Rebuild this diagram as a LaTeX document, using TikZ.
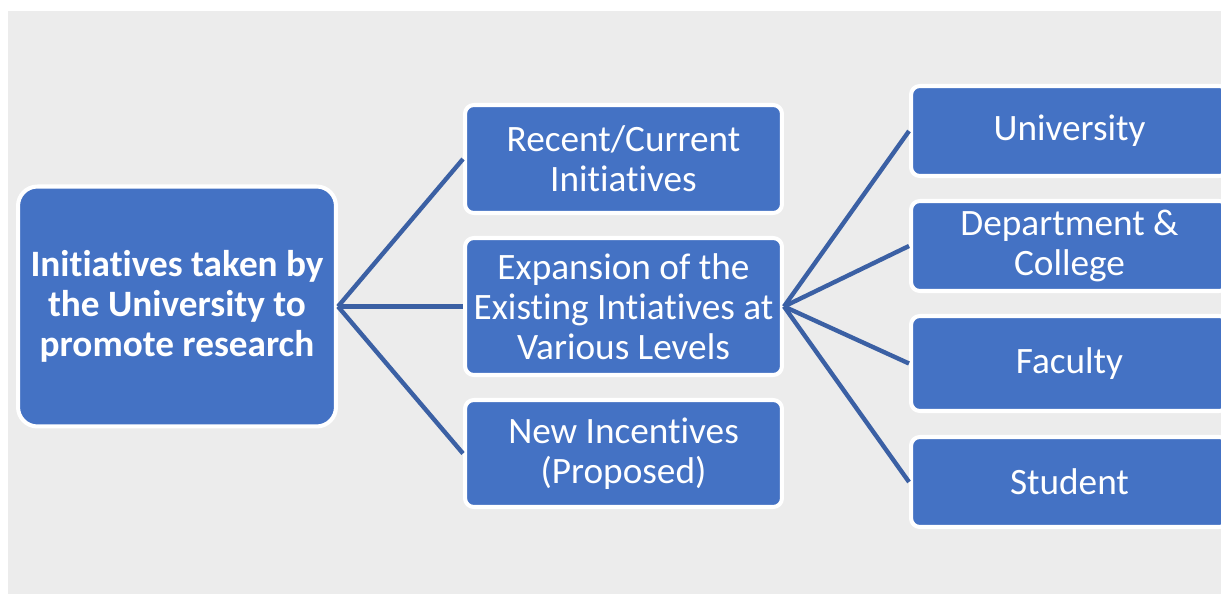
\documentclass[tikz,border=0pt]{standalone}
\usepackage{fontspec}
\setmainfont[RawFeature={-liga;-clig;-calt;-dlig}]{Carlito}
\usetikzlibrary{positioning}
\definecolor{boxblue}{HTML}{4472C4}
\definecolor{linkblue}{HTML}{3B60A4}
\definecolor{bggray}{HTML}{ECECEC}

\begin{document}
\begin{tikzpicture}[x=0.02cm, y=-0.02cm,
        every node/.append style={inner sep=0pt}]
      \tikzstyle{box} = [draw=white, fill=boxblue, text=white, line width=2.3pt,
        align=center, font=\fontsize{21.2}{22.9}\selectfont,
        minimum width=6.34cm, rounded corners=5pt]
      \tikzstyle{link} = [draw=linkblue, line width=2.5pt]
      \useasboundingbox (0,0) rectangle (1221,594);
      \clip (0,0) rectangle (1221,594);
      \fill[white] (0,0) rectangle (1221,594);
      \fill[bggray] (8,11) rectangle (1221,594);
      % root
      \node (ROOT) [box, minimum width=6.36cm, minimum height=4.8cm,
        rounded corners=11pt, font=\bfseries\fontsize{21.2}{22.9}\selectfont]
        at (177,306.5) {Initiatives taken by\\the University to\\promote research};
      % second level
      \node (recent) [box, minimum height=2.16cm] at (623.5,159)
        {Recent/Current\\Initiatives};
      \node (expand) [box, minimum height=2.74cm] at (623.5,306.5)
        {Expansion of the\\Existing Intiatives at\\Various Levels};
      \node (new) [box, minimum height=2.14cm] at (623.5,453.5)
        {New Incentives\\(Proposed)};
      % levels
      \node (univ) [box, minimum height=1.8cm] at (1069.5,131) {University};
      \node (dept) [box, minimum height=1.8cm] at (1069.5,246) {Department \&\\College};
      \node (fac) [box, minimum height=1.9cm] at (1069.5,363.5) {Faculty};
      \node (stud) [box, minimum height=1.8cm] at (1069.5,482) {Student};
      \foreach \n in {recent,expand,new}
        \draw[link] (ROOT.east) -- (\n.west);
      \foreach \n in {univ,dept,fac,stud}
        \draw[link] (expand.east) -- (\n.west);
    \end{tikzpicture}
\end{document}
